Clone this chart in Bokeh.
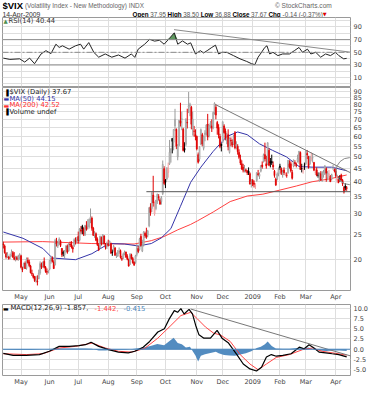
import numpy as np
import pandas as pd
from bokeh.plotting import figure
from bokeh.layouts import column
from bokeh.models import Range1d, FixedTicker, Span, Label, NumeralTickFormatter, ColumnDataSource
from bokeh.embed import file_html
from bokeh.resources import INLINE

# ---------------- data ----------------
opens = [
    22.9, 22.5, 21.0, 20.5, 20.4, 20.5, 20.6, 21.2, 20.3, 20.1, 20.3, 20.1, 20.3,
    20.6, 18.4, 18.6, 19.3, 18.4, 19.8, 19.5, 18.8, 17.6, 17.3, 17.1, 16.5, 16.4, 16.8, 17.7, 19.1, 18.8, 19.6, 18.6, 17.9, 17.8,
    18.3, 19.7, 20.2, 19.5, 19.0, 23.5, 22.5, 23.0, 23.5, 22.0, 21.3, 20.8, 21.6, 22.5, 21.6, 22.8, 22.8, 22.2, 22.5, 23.7, 23.6,
    24.5, 23.7, 26.0, 26.8, 26.3, 24.9, 27.0, 26.8, 26.8, 28.6, 28.9, 26.4, 24.9, 25.1, 23.9, 22.6, 22.2, 24.3, 23.2, 24.6, 22.8, 22.4,
    22.9, 22.8, 23.0, 21.3, 21.5, 22.1, 20.6, 20.6, 21.4, 21.6, 20.1, 20.2, 21.0, 21.3, 20.5, 19.9, 19.1, 20.8, 20.1, 19.5, 19.4,
    20.9, 22.0, 21.8, 24.5, 21.5, 22.8, 25.2, 25.0, 24.8, 27.0, 32.0, 31.5, 35.5, 30.0, 31.5, 33.5, 35.0, 34.0, 33.5, 36.0, 45.0,
    40.5, 41.0, 43.5, 47.0, 52.0, 59.0, 57.0, 66.0, 64.0, 50.0, 55.5, 69.0, 70.0, 64.0, 54.0, 56.0, 68.0, 78.0, 79.0, 78.0, 64.5, 63.0, 61.0,
    60.0, 51.0, 49.0, 56.0, 61.0, 54.0, 61.0, 62.0, 67.0, 60.5, 67.0, 66.0, 65.0, 74.0, 78.0, 68.0, 65.0, 60.0, 56.0,
    57.0, 66.0, 63.0, 58.0, 61.0, 52.0, 58.0, 57.0, 56.0, 62.0, 55.0, 55.0, 52.0, 49.0, 47.0, 45.5, 44.5, 44.5, 44.0, 44.0, 43.0, 39.5,
    40.5, 39.5, 38.5, 40.5, 43.0, 42.0, 44.0, 46.5, 48.0, 51.0, 47.0, 47.0, 53.0, 48.0, 48.0, 46.5, 44.0, 41.0, 41.0, 43.0,
    46.0, 45.0, 42.5, 44.5, 42.5, 42.5, 43.5, 47.0, 47.0, 43.5, 46.0, 47.5, 46.5, 48.0, 48.0, 52.0, 45.0, 44.5, 46.5,
    47.0, 51.5, 50.0, 47.0, 49.0, 49.5, 47.5, 43.5, 44.5, 42.5, 40.5, 43.0, 41.0, 42.5, 43.0, 45.0, 41.5, 42.0, 42.0, 41.0, 45.5, 44.5,
    44.0, 40.5, 41.0, 41.0, 42.5, 40.5, 38.0, 38.5, 37.95]
highs = [
    23.4, 22.8, 21.3, 21.3, 20.6, 21.0, 21.8, 21.5, 21.3, 20.6, 20.6, 20.8, 21.1,
    20.8, 18.7, 19.4, 19.6, 20.3, 20.3, 19.9, 19.0, 18.2, 17.6, 17.2, 17.2, 17.3, 18.2, 19.6, 19.4, 19.6, 20.3, 18.8, 18.4, 18.2,
    19.9, 20.6, 20.5, 19.8, 24.0, 24.2, 23.6, 24.3, 23.8, 22.1, 21.6, 21.7, 22.7, 22.8, 23.2, 23.4, 23.5, 22.6, 24.1, 24.3, 24.4,
    25.6, 26.4, 26.9, 27.2, 26.6, 27.2, 28.1, 28.6, 28.8, 31.5, 29.3, 26.7, 25.7, 25.4, 24.3, 23.0, 24.7, 24.5, 25.0, 24.8, 23.1, 23.4,
    23.8, 23.6, 23.2, 21.8, 22.7, 22.3, 21.2, 21.7, 22.2, 21.8, 20.6, 21.2, 21.6, 21.4, 20.9, 20.1, 21.1, 21.0, 20.4, 19.6, 20.8,
    22.9, 22.5, 24.2, 25.1, 23.8, 25.7, 25.6, 26.5, 26.0, 31.8, 33.0, 36.4, 42.2, 33.5, 34.0, 36.0, 35.8, 34.5, 35.2, 48.4, 46.0,
    41.0, 45.5, 47.5, 58.2, 54.0, 59.1, 64.0, 76.9, 64.5, 56.0, 69.6, 81.2, 75.0, 64.9, 57.0, 70.7, 77.0, 89.5, 81.2, 79.0, 75.0, 66.0, 64.0,
    60.5, 52.0, 55.0, 64.5, 62.0, 60.5, 63.5, 67.0, 73.5, 67.0, 69.0, 70.0, 75.0, 81.5, 80.0, 69.0, 67.0, 61.5, 56.5,
    68.6, 67.0, 64.5, 62.0, 64.0, 59.5, 59.5, 58.5, 61.0, 63.0, 57.5, 56.0, 53.5, 51.0, 48.5, 47.0, 46.5, 45.0, 44.5, 45.5, 43.5, 41.0,
    41.0, 40.5, 39.5, 43.5, 44.5, 43.5, 46.5, 48.0, 51.5, 56.8, 50.5, 57.0, 54.0, 49.5, 51.0, 48.0, 44.5, 41.5, 43.5, 45.5,
    47.0, 45.5, 44.5, 45.5, 43.5, 43.5, 48.6, 48.5, 48.0, 44.5, 48.7, 48.5, 47.5, 51.0, 52.7, 52.5, 47.0, 46.0, 47.5,
    53.0, 53.2, 50.5, 50.5, 52.0, 51.5, 47.8, 45.0, 45.5, 43.5, 43.5, 44.0, 44.0, 44.5, 46.5, 45.5, 44.0, 44.5, 42.5, 43.0, 46.5, 45.0,
    45.0, 42.5, 42.0, 42.5, 43.0, 41.0, 38.5, 39.5, 38.50]
lows = [
    22.0, 21.0, 20.1, 20.2, 19.9, 20.0, 20.5, 20.2, 19.8, 19.6, 19.8, 19.7, 19.9,
    18.4, 17.8, 18.4, 18.3, 18.2, 19.2, 18.6, 17.6, 17.2, 16.8, 16.3, 16.2, 15.8, 16.7, 17.4, 18.3, 18.5, 18.4, 17.7, 17.4, 17.6,
    18.1, 19.2, 19.4, 18.3, 18.9, 22.4, 22.1, 22.7, 22.3, 20.4, 20.5, 20.2, 21.2, 21.0, 21.4, 22.3, 22.0, 21.2, 22.3, 22.8, 23.1,
    23.0, 23.4, 25.1, 25.0, 24.6, 24.6, 25.8, 26.1, 26.3, 27.6, 25.8, 24.6, 24.2, 23.5, 22.5, 21.5, 21.9, 22.6, 22.8, 22.8, 21.8, 21.9,
    22.4, 22.5, 21.0, 20.6, 21.4, 20.6, 20.2, 20.4, 21.0, 20.1, 19.7, 20.0, 20.7, 20.2, 19.8, 18.7, 19.0, 19.9, 19.2, 18.8, 19.2,
    20.5, 21.1, 21.6, 22.3, 21.3, 22.4, 24.2, 24.0, 24.3, 26.6, 29.5, 30.5, 32.0, 29.5, 31.0, 32.8, 33.8, 32.5, 32.6, 35.5, 38.8,
    37.8, 40.5, 41.5, 46.5, 47.5, 51.6, 53.0, 63.0, 53.6, 48.5, 55.0, 65.6, 63.5, 52.5, 52.0, 55.0, 64.5, 74.0, 72.0, 64.0, 60.5, 60.0, 58.0,
    53.0, 47.1, 48.0, 55.5, 55.0, 53.0, 57.5, 60.5, 58.0, 59.5, 64.5, 62.5, 64.0, 73.0, 70.0, 61.0, 59.0, 54.0, 52.5,
    56.5, 61.5, 58.0, 56.0, 53.0, 51.5, 55.0, 54.5, 55.5, 53.5, 53.5, 51.0, 49.0, 46.5, 44.5, 43.5, 43.5, 43.5, 42.5, 42.5, 39.0, 38.0,
    38.5, 38.0, 37.5, 40.0, 42.0, 41.0, 43.5, 45.0, 47.5, 48.0, 45.0, 46.5, 46.0, 45.5, 46.5, 44.5, 41.5, 38.5, 40.5, 42.0,
    44.5, 42.5, 41.5, 42.5, 42.0, 41.5, 43.0, 45.0, 43.5, 40.8, 45.5, 46.0, 45.5, 47.5, 47.0, 44.5, 43.5, 43.0, 44.5,
    46.5, 49.0, 45.0, 46.5, 48.0, 47.5, 44.0, 42.5, 42.0, 41.5, 40.0, 40.5, 40.0, 41.5, 42.5, 40.0, 40.5, 40.5, 40.0, 40.5, 44.5, 43.5,
    41.5, 39.5, 39.5, 40.0, 40.5, 38.5, 36.0, 37.0, 36.88]
closes = [
    22.8, 21.2, 20.4, 20.9, 20.1, 20.5, 21.3, 20.4, 20.0, 20.1, 20.0, 20.5, 20.8,
    18.6, 18.2, 19.2, 18.4, 20.0, 19.4, 18.9, 17.7, 17.5, 17.0, 16.5, 16.5, 16.3, 17.6, 19.2, 18.6, 19.4, 18.6, 17.9, 17.8, 17.8,
    19.8, 20.2, 19.6, 18.4, 23.6, 22.9, 23.1, 23.9, 22.6, 20.8, 21.0, 21.5, 22.4, 21.3, 22.8, 22.7, 22.3, 21.9, 23.8, 23.4, 23.9,
    23.6, 26.2, 25.7, 26.2, 25.0, 27.0, 26.1, 27.2, 28.5, 29.2, 26.4, 24.8, 25.2, 23.7, 22.8, 21.8, 24.5, 22.9, 24.9, 23.0, 22.2, 22.9,
    22.6, 23.5, 21.1, 21.2, 22.4, 20.7, 20.7, 21.2, 21.5, 20.3, 20.0, 20.9, 21.3, 20.4, 20.0, 18.8, 20.9, 20.1, 19.4, 19.0, 20.6,
    22.0, 21.4, 24.0, 22.6, 22.6, 25.5, 24.7, 24.4, 25.7, 31.7, 30.3, 36.2, 33.1, 32.1, 33.9, 35.7, 34.7, 32.8, 34.7, 46.7, 39.4,
    39.8, 45.3, 45.1, 52.1, 53.7, 57.5, 63.9, 70.0, 55.0, 55.1, 69.3, 67.6, 70.3, 53.0, 53.1, 69.7, 67.8, 79.1, 80.1, 67.0, 70.0, 62.9, 59.9,
    53.7, 47.7, 54.6, 63.7, 56.1, 60.0, 61.9, 66.5, 59.8, 66.3, 67.6, 64.7, 74.3, 80.9, 72.7, 64.7, 60.9, 54.9, 55.3,
    68.5, 62.2, 59.1, 59.1, 54.7, 58.9, 57.6, 55.7, 59.9, 54.3, 56.0, 52.4, 49.8, 47.3, 44.9, 44.4, 45.0, 44.2, 43.4, 43.4, 39.2, 40.0,
    39.2, 39.1, 38.6, 43.4, 42.6, 42.8, 46.1, 45.8, 51.0, 49.1, 46.1, 56.7, 46.4, 47.3, 47.3, 45.7, 42.3, 38.9, 42.9, 44.8,
    45.5, 43.1, 43.7, 43.4, 42.8, 42.4, 48.5, 45.7, 44.2, 41.3, 48.7, 47.1, 46.4, 49.3, 52.6, 44.7, 44.9, 44.6, 46.4,
    52.6, 50.9, 45.5, 50.2, 49.3, 49.7, 44.4, 43.6, 42.4, 42.4, 43.0, 40.6, 43.6, 43.6, 45.9, 43.2, 43.2, 42.9, 40.0, 42.6, 45.5, 44.1,
    42.3, 42.0, 39.7, 40.9, 40.5, 39.3, 36.5, 37.8, 37.67]

# moving averages (day index, value)
ma50_pts = [(0, 25.5), (14.5, 24.1), (29, 22.0), (36, 20.2), (53, 19.9), (65, 21.0), (77.5, 23.0),
            (89, 22.9), (99, 22.5), (108.6, 23.0), (116, 24.2), (123, 26.3), (130, 32.1), (137.5, 39.8),
            (145, 45.6), (154, 52.5), (164, 60.0), (172, 62.5), (179, 61.0), (188, 56.2), (197.6, 53.0),
            (207.8, 50.0), (217, 45.9), (226.6, 45.6), (241, 45.6), (252, 44.15)]
ma200_pts = [(0, 23.3), (29, 23.4), (65, 23.0), (96, 22.9), (108.6, 23.6), (118, 24.5), (128, 26.0),
             (137.5, 27.3), (142.6, 28.2), (154, 30.5), (166.5, 33.5), (179, 35.2), (190.5, 35.8),
             (202.7, 37.1), (215, 38.5), (226.6, 40.0), (239, 41.0), (252, 42.52)]

# RSI(14)
rsi_pts = [(0, 40.8), (4.8, 38.8), (12, 39.7), (15.7, 34.6), (19.3, 40.8), (22.9, 32), (27.7, 47.4),
           (31.3, 52.6), (35, 48), (38.6, 62.8), (41, 57.7), (43.4, 60.3), (48.3, 55), (53, 60.3),
           (56.7, 62.8), (59, 55), (62.7, 65.4), (66.4, 50), (70, 42.3), (74.8, 47.4), (79.6, 42.3),
           (84.5, 45.8), (89.3, 40.8), (94, 47.4), (96.5, 42), (99, 55), (103.7, 62.8), (107.4, 70.5),
           (111, 67.7), (114.6, 69), (118, 62.8), (121.8, 71.8), (125.5, 80.8), (128, 62.8), (131.5, 68),
           (135.2, 62.8), (137.5, 65), (141, 47.4), (144.6, 52.6), (147, 49), (149.6, 52.6), (153, 57.7),
           (155.7, 61.3), (158, 47.4), (160.5, 50), (164, 50), (168.9, 44.8), (173.7, 39.7), (178.6, 35.6),
           (182.2, 32), (184.6, 30.5), (187, 42.3), (189.5, 50), (191.9, 57.7), (193.5, 60.3), (195.5, 47.4),
           (197.9, 50), (201.5, 44.8), (205, 47.4), (210, 47.4), (213.6, 52.6), (217, 57.7), (219.6, 50),
           (223.2, 55), (225.7, 47.4), (229.3, 50), (232.9, 42.3), (236.5, 47.4), (240.1, 44.8),
           (243.8, 50), (246.2, 44.8), (249.8, 39.7), (252, 40.44)]

# MACD(12,26,9)
macd_pts = [(0, -1.0), (7.2, -1.5), (16.8, -1.5), (26.5, -1.3), (33.8, -0.5), (41, 0.7), (48.3, 0.7),
            (55.5, 0.9), (60.3, 1.1), (64.4, 1.7), (70, 0.7), (77.2, -0.1), (84.5, -0.7), (91.7, -0.9),
            (96.5, -0.5), (102.6, 0.5), (107.4, 1.9), (113.4, 4.2), (118.2, 5.0), (121.8, 7.4), (125.5, 9.4),
            (127.9, 9.0), (130.3, 9.9), (132.7, 8.6), (136.3, 9.7), (138.8, 8.6), (141.2, 5.8), (143.6, 3.5),
            (147.2, 2.7), (152, 2.7), (156.9, 4.6), (160.5, 2.7), (165.3, 1.5), (171.4, -1.3), (176.1, -3.6),
            (181, -4.8), (185.8, -5.3), (189.5, -4.4), (193.1, -1.9), (196.7, -1.3), (200.3, -1.7),
            (205.1, -1.5), (211.2, -1.1), (217.2, 0.5), (220.8, 0.1), (224.4, 1.1), (228, 0.3), (231.7, -0.7),
            (236.5, -0.9), (241.3, -1.1), (246.2, -1.3), (252, -1.857)]
signal_pts = [(0, -1.1), (16.8, -1.3), (29, -1.1), (41, 0.3), (53, 0.7), (65.2, 1.5), (74.8, 0.3),
              (84.5, -0.5), (94.1, -0.7), (103.7, 0.2), (113.4, 2.7), (123, 5.8), (130.3, 8.2), (137.5, 9.0),
              (142.4, 7.4), (148.4, 5.4), (154.4, 3.9), (159.3, 3.5), (166.5, 1.9), (173.8, -1.3), (181, -3.6),
              (187, -5.0), (193.1, -3.6), (200.3, -2.0), (210, -1.3), (219.6, -0.1), (226.8, 0.3), (234, -0.5),
              (243.8, -1.0), (252, -1.442)]
hist_pts = [(0, -0.1), (10, -0.2), (20, -0.2), (30, 0.0), (40, 0.2), (50, 0.2), (60, 0.2), (65, 0.1),
            (70, -0.3), (75, -0.3), (80, -0.2), (90, -0.1), (96, 0.1), (103, 0.4), (108, 0.8), (113, 1.3),
            (118, 1.0), (122, 2.0), (125, 2.8), (128, 1.5), (131, 1.2), (134, 0.4), (137, 0.6), (139, -0.5),
            (141, -1.5), (143, -3.0), (145, -1.6), (148, -1.2), (152, -0.9), (156, -0.6), (158, -1.0),
            (162, -1.4), (166, -1.5), (170, -1.6), (174, -1.3), (178, -1.0), (182, -0.5), (186, 0.3),
            (189, 0.6), (192, 1.2), (194, 1.9), (197, 0.8), (200, 0.2), (205, 0.1), (210, 0.1), (215, 0.3),
            (219, 0.2), (224, 0.4), (228, -0.1), (232, -0.3), (237, -0.4), (242, -0.3), (247, -0.3), (252, -0.415)]

# hand-drawn annotations (day index, value)
price_trend = [(155.5, 80.0), (273.7, 38.6)]
price_support = [(105, 36.6), (273.7, 36.6)]
price_circle = [(254.1, 44.0)]
rsi_trend = [(125.3, 85.8), (273.7, 45.0)]
macd_trend = [(137.5, 9.8), (273.7, -3.47)]

holidays = ["2008-05-26", "2008-07-04", "2008-09-01", "2008-11-27", "2008-12-25",
            "2009-01-01", "2009-01-19", "2009-02-16", "2009-04-10"]

# ---------------- setup ----------------
o = np.array(opens); h = np.array(highs); l = np.array(lows); c = np.array(closes)
n = len(c)
idx = np.arange(n)
dates = pd.bdate_range("2008-04-14", "2009-04-14", freq="C", holidays=holidays)[:n]
month_starts = [i for i in range(1, len(dates)) if dates[i].month != dates[i - 1].month]
month_labels = {i: ("2009" if dates[i].month == 1 else dates[i].strftime("%b")) for i in month_starts}

def xy(pts):
    a = np.array(pts, dtype=float)
    return a[:, 0], a[:, 1]

FONT = "DejaVu Sans"
GRID = "#dedede"
XLO, XHI = -0.6, 254.8
FW = 348
xr = Range1d(XLO, XHI)
common = dict(output_backend="svg", toolbar_location=None, frame_width=FW, x_range=xr,
              min_border_left=2, min_border_right=22, y_axis_location="right")

def style(p, yticks, gridticks):
    p.outline_line_color = "#9a9a9a"
    p.yaxis.ticker = FixedTicker(ticks=yticks)
    p.ygrid.ticker = FixedTicker(ticks=gridticks)
    p.xgrid.ticker = FixedTicker(ticks=month_starts)
    p.grid.grid_line_color = GRID
    p.yaxis.axis_line_color = None
    p.yaxis.major_tick_line_color = None
    p.yaxis.minor_tick_line_color = None
    p.yaxis.major_tick_out = 0
    p.yaxis.major_tick_in = 0
    p.yaxis.major_label_text_font_size = "6.5px"
    p.yaxis.major_label_text_font = FONT
    p.yaxis.major_label_text_color = "#444444"
    p.yaxis.major_label_standoff = 3

def style_x(p):
    p.xaxis.ticker = FixedTicker(ticks=month_starts)
    p.xaxis.major_label_overrides = month_labels
    p.xaxis.axis_line_color = None
    p.xaxis.major_tick_line_color = None
    p.xaxis.minor_tick_line_color = None
    p.xaxis.major_tick_out = 0
    p.xaxis.major_tick_in = 0
    p.xaxis.major_label_text_font_size = "6.5px"
    p.xaxis.major_label_text_font = FONT
    p.xaxis.major_label_text_color = "#444444"
    p.xaxis.major_label_standoff = 2

def label(p, x, y, text, size="7px", color="#222222", bold=False, font=FONT, align="left"):
    p.add_layout(Label(x=x, y=y, text=text, text_font_size=size, text_color=color, text_font=font,
                       text_font_style="bold" if bold else "normal", text_baseline="middle",
                       text_align=align))

def fx(off):
    return XLO + off / FW * (XHI - XLO)

# ---------------- header ----------------
hdr = figure(width=372, height=17, x_range=Range1d(0, 372), y_range=Range1d(17, 0),
             output_backend="svg", toolbar_location=None, min_border=0)
hdr.axis.visible = False
hdr.grid.visible = False
hdr.outline_line_color = None
HF = "Liberation Sans"
label(hdr, 0, 4.8, "$VIX", size="9.5px", color="#000000", bold=True, font=HF)
label(hdr, 24, 5.2, "(Volatility Index - New Methodology) INDX", size="6.4px", color="#666666", font=HF)
label(hdr, 352, 5.2, "\u00a9 StockCharts.com", size="6.6px", color="#666666", font=HF, align="right")
label(hdr, 0, 13.6, "14-Apr-2009", size="6.8px", color="#333333", font=HF)
W_REG = {".": .278, "-": .333, "(": .333, ")": .333, "%": .889, " ": .278}
W_BOLD = {"O": .778, "p": .611, "e": .556, "n": .611, "H": .722, "i": .278, "g": .611, "h": .611,
          "L": .611, "o": .611, "w": .778, "C": .722, "l": .278, "s": .556}
pieces = [("Open", True), ("37.95", False), ("High", True), ("38.50", False), ("Low", True),
          ("36.88", False), ("Close", True), ("37.67", False), ("Chg", True), ("-0.14 (-0.37%)", False)]
HS = 6.3
xpos = 139.0
for txt, b in pieces:
    label(hdr, xpos, 13.6, txt, size=f"{HS}px", color="#000000" if b else "#555555", bold=b, font=HF)
    w = sum((W_BOLD.get(ch, .6) if b else W_REG.get(ch, .556)) for ch in txt) * HS
    xpos += w + 0.278 * HS * 1.6
label(hdr, xpos, 13.4, "\u25bc", size="5px", color="#dd0000", font=FONT)

# ---------------- RSI panel ----------------
RLO, RHI, RH = -4.0, 105.0, 69
p1 = figure(frame_height=RH, y_range=Range1d(RLO, RHI), min_border_top=0, min_border_bottom=1, **common)
style(p1, [10, 30, 50, 70, 90], list(range(0, 101, 10)))
p1.xaxis.visible = False
p1.add_layout(Span(location=70, dimension="width", line_color="#8c8c8c", line_width=1))
p1.add_layout(Span(location=30, dimension="width", line_color="#8c8c8c", line_width=1))
p1.add_layout(Span(location=50, dimension="width", line_color="#8c8c8c", line_width=1, line_dash="6 2 2 2"))
rx, ryv = xy(rsi_pts)
p1.varea(x=rx, y1=np.full_like(ryv, 70.0), y2=np.maximum(ryv, 70.0), fill_color="#4f8f4f", fill_alpha=0.9)
p1.line(rx, ryv, line_color="#222222", line_width=1)
tx, ty = xy(rsi_trend)
p1.line(tx, ty, line_color="#8a8a8a", line_width=1)

def ry(off):
    return RHI - off / RH * (RHI - RLO)
label(p1, fx(1), ry(3.3), "\u25b2", size="5.5px", color="#4f8f4f")
label(p1, fx(6), ry(3.3), "RSI(14) 40.44", size="6.8px", color="#333333")

# ---------------- price panel ----------------
PLO, PHI, PH = 15.1, 93.1, 203
p2 = figure(frame_height=PH, y_axis_type="log", y_range=Range1d(PLO, PHI), min_border_top=0,
            min_border_bottom=0, **common)
style(p2, [20, 25, 30, 35, 40, 45, 50, 55, 60, 65, 70, 75, 80, 85, 90], list(range(15, 95, 5)))
p2.yaxis.formatter = NumeralTickFormatter(format="0")
style_x(p2)

prev = np.r_[o[0], c[:-1]]
up_day = c >= prev
hollow = c >= o
line_col = np.where(up_day, np.where(hollow, "#9a9a9a", "#000000"), np.where(hollow, "#f29a9a", "#e00000"))
fill_col = np.where(hollow, np.where(up_day, "#cfcfcf", "#f7c4c4"), line_col)
src = ColumnDataSource(dict(x=idx, h=h, l=l, top=np.maximum(o, c), bot=np.minimum(o, c),
                            lc=line_col, fc=fill_col))
p2.line(*xy(ma200_pts), line_color="#ff4040", line_width=1)
p2.line(*xy(ma50_pts), line_color="#3434a8", line_width=1)
p2.segment(x0="x", y0="l", x1="x", y1="h", source=src, line_color="lc", line_width=1)
p2.vbar(x="x", width=0.75, top="top", bottom="bot", source=src, fill_color="fc", line_color="lc",
        line_width=0.6)
sx, sy = xy(price_support)
p2.line(sx, sy, line_color="#555555", line_width=1)
tx, ty = xy(price_trend)
p2.line(tx, ty, line_color="#777777", line_width=1)
cx, cy = xy(price_circle)
p2.scatter(cx, cy, marker="circle", size=27, fill_alpha=0, line_color="#888888", line_width=1)

def py(off):
    return float(np.exp(np.log(PHI) - off / PH * (np.log(PHI) - np.log(PLO))))
label(p2, fx(1.5), py(4.5), "\u2590", size="6px", color="#000000")
label(p2, fx(7), py(4.5), "$VIX (Daily) 37.67", size="6.8px", color="#222222")
label(p2, fx(1), py(11.2), "\u25ac", size="6px", color="#3434a8")
label(p2, fx(7), py(11.2), "MA(50) 44.15", size="6.8px", color="#3434a8")
label(p2, fx(1), py(17.6), "\u25ac", size="6px", color="#ff3030")
label(p2, fx(7), py(17.6), "MA(200) 42.52", size="6.8px", color="#ff3030")
label(p2, fx(1.5), py(24), "\u2590", size="6px", color="#000000")
label(p2, fx(7), py(24), "Volume undef", size="6.8px", color="#222222")

# ---------------- MACD panel ----------------
MLO, MHI, MH = -6.4, 10.9, 71
p3 = figure(frame_height=MH, y_range=Range1d(MLO, MHI), min_border_top=1, min_border_bottom=0, **common)
style(p3, [-5, -2.5, 0, 2.5, 5, 7.5, 10], [-5, -2.5, 0, 2.5, 5, 7.5, 10])
p3.yaxis.formatter = NumeralTickFormatter(format="0.0")
style_x(p3)
hx, hy = xy(hist_pts)
p3.varea(x=hx, y1=np.zeros_like(hy), y2=hy, fill_color="#4a86bd", fill_alpha=0.95)
p3.add_layout(Span(location=0, dimension="width", line_color="#4a86bd", line_width=1))
p3.line(*xy(signal_pts), line_color="#ff4444", line_width=1)
p3.line(*xy(macd_pts), line_color="#000000", line_width=1.2)
tx, ty = xy(macd_trend)
p3.line(tx, ty, line_color="#777777", line_width=1)

def my(off):
    return MHI - off / MH * (MHI - MLO)
label(p3, fx(0.5), my(3.8), "\u25ac", size="6px", color="#000000")
label(p3, fx(8), my(3.8), "MACD(12,26,9) -1.857,", size="6.8px", color="#222222")
label(p3, fx(92), my(3.8), "-1.442,", size="6.8px", color="#ff4444")
label(p3, fx(121), my(3.8), "-0.415", size="6.8px", color="#4a86bd")

layout = column(hdr, p1, p2, p3, spacing=0)
open("out.html", "w").write(file_html(layout, INLINE))
